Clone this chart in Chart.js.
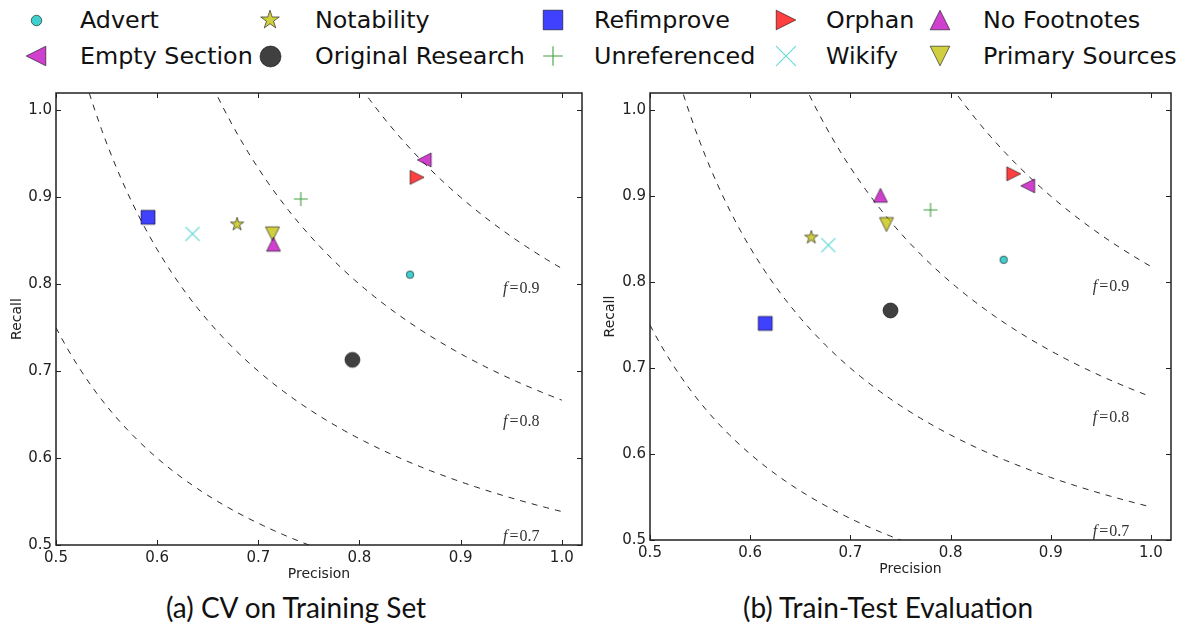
<!DOCTYPE html>
<html>
<head>
<meta charset="utf-8">
<script src="https://cdn.jsdelivr.net/npm/chart.js@4.4.1/dist/chart.umd.min.js"></script>
<style>
  body { margin: 0; background: #fff; width: 1182px; height: 628px; overflow: hidden; position: relative; }
  canvas.plot { position: absolute; }
  .leg { position: absolute; font-family: "DejaVu Sans"; font-size: 23.8px; line-height: 28px; color: #111; white-space: nowrap; }
  .legm { position: absolute; }
  .cap { position: absolute; font-family: Lato; font-size: 28px; line-height: 32px; color: #111; white-space: nowrap; transform: translateX(-50%); }
</style>
</head>
<body>
<canvas id="cvChart" class="plot" width="592" height="510" style="left:0px;top:80px;width:592px;height:510px"></canvas>
<canvas id="ttChart" class="plot" width="590" height="510" style="left:592px;top:80px;width:590px;height:510px"></canvas>
<div class="cap" style="left:296px;top:591px">(a) CV on Training Set</div>
<div class="cap" style="left:888px;top:591px">(b) Train-Test Evaluation</div>
<script>
// maintenance template categories
const categories = [
  "Advert", "Empty Section", "Notability", "Original Research", "Refimprove",
  "Unreferenced", "Orphan", "Wikify", "No Footnotes", "Primary Sources",
];

// (a) CV on training set
const cvPrecision = [0.850, 0.864, 0.679, 0.793, 0.591, 0.742, 0.857, 0.635, 0.715, 0.714];
const cvRecall = [0.811, 0.943, 0.869, 0.713, 0.877, 0.898, 0.923, 0.858, 0.846, 0.858];

// (b) train-test evaluation
const ttPrecision = [0.853, 0.877, 0.661, 0.740, 0.615, 0.780, 0.863, 0.678, 0.730, 0.736];
const ttRecall = [0.826, 0.912, 0.852, 0.767, 0.752, 0.884, 0.926, 0.843, 0.901, 0.867];

const xTicks = [0.5, 0.6, 0.7, 0.8, 0.9, 1.0];
const yTicks = [0.5, 0.6, 0.7, 0.8, 0.9, 1.0];

// iso F-measure guide curves, labels only on some
const fLevels = [0.6, 0.7, 0.8, 0.9];
const fLabelRecall = [null, 0.51, 0.642, 0.795];
const fLabelPrecision = 0.942;

// marker looks (alpha .75 like the original plot)
const markerShapes = ["circle", "triLeft", "star", "circle", "square", "plus", "triRight", "x", "triUp", "triDown"];
const markerSizes = [7.5, 14, 14, 15, 14, 14, 14, 14, 14, 14];
const markerColors = [
  "rgba(0,191,191,0.75)", "rgba(191,0,191,0.75)", "rgba(191,191,0,0.75)", "rgba(0,0,0,0.75)",
  "rgba(0,0,255,0.75)", "rgba(0,128,0,0.75)", "rgba(255,0,0,0.75)", "rgba(0,191,191,0.6)",
  "rgba(191,0,191,0.75)", "rgba(191,191,0,0.75)",
];
const edgeColor = "rgba(0,0,0,0.7)";

function makeMarker(shape, size, fill) {
  const dim = Math.ceil(size) + 4;
  const c = document.createElement("canvas");
  c.width = dim;
  c.height = dim;
  const g = c.getContext("2d");
  const m = dim / 2, h = size / 2;
  g.beginPath();
  if (shape === "circle") {
    g.arc(m, m, h, 0, Math.PI * 2);
  } else if (shape === "square") {
    g.rect(m - h, m - h, size, size);
  } else if (shape === "triUp") {
    g.moveTo(m, m - h); g.lineTo(m + h, m + h); g.lineTo(m - h, m + h); g.closePath();
  } else if (shape === "triDown") {
    g.moveTo(m, m + h); g.lineTo(m + h, m - h); g.lineTo(m - h, m - h); g.closePath();
  } else if (shape === "triLeft") {
    g.moveTo(m - h, m); g.lineTo(m + h, m - h); g.lineTo(m + h, m + h); g.closePath();
  } else if (shape === "triRight") {
    g.moveTo(m + h, m); g.lineTo(m - h, m - h); g.lineTo(m - h, m + h); g.closePath();
  } else if (shape === "star") {
    for (let i = 0; i < 10; i++) {
      const r = i % 2 === 0 ? h : h * 0.382;
      const a = -Math.PI / 2 + i * Math.PI / 5;
      const px = m + r * Math.cos(a), py = m + r * Math.sin(a);
      if (i === 0) g.moveTo(px, py); else g.lineTo(px, py);
    }
    g.closePath();
  } else if (shape === "plus") {
    g.moveTo(m - h, m); g.lineTo(m + h, m);
    g.moveTo(m, m - h); g.lineTo(m, m + h);
  } else if (shape === "x") {
    g.moveTo(m - h, m - h); g.lineTo(m + h, m + h);
    g.moveTo(m - h, m + h); g.lineTo(m + h, m - h);
  }
  if (shape === "plus" || shape === "x") {
    g.strokeStyle = fill;
    g.lineWidth = 1.1;
    g.stroke();
  } else {
    g.fillStyle = fill;
    g.fill();
    g.strokeStyle = edgeColor;
    g.lineWidth = 0.8;
    g.stroke();
  }
  return c;
}

const precisionGrid = [];
for (let i = 0; i <= 100; i++) precisionGrid.push(0.5 + i * 0.005);

function framePlugin() {
  return {
    id: "frame",
    afterDatasetsDraw(chart) {
      const { ctx, chartArea: a, scales: { x, y } } = chart;
      ctx.save();
      ctx.strokeStyle = "#222";
      ctx.lineWidth = 1;
      ctx.beginPath();
      xTicks.forEach((v) => {
        const px = Math.round(x.getPixelForValue(v)) + 0.5;
        ctx.moveTo(px, a.bottom); ctx.lineTo(px, a.bottom - 5);
        ctx.moveTo(px, a.top); ctx.lineTo(px, a.top + 5);
      });
      yTicks.forEach((v) => {
        const py = Math.round(y.getPixelForValue(v)) + 0.5;
        ctx.moveTo(a.left, py); ctx.lineTo(a.left + 5, py);
        ctx.moveTo(a.right, py); ctx.lineTo(a.right - 5, py);
      });
      ctx.stroke();
      ctx.lineWidth = 1.5;
      ctx.strokeRect(a.left, a.top, a.right - a.left, a.bottom - a.top);

      // f = ... labels
      ctx.fillStyle = "#333";
      ctx.textBaseline = "middle";
      fLevels.forEach((f, i) => {
        if (fLabelRecall[i] === null) return;
        let px = x.getPixelForValue(fLabelPrecision);
        const py = y.getPixelForValue(fLabelRecall[i]);
        ctx.font = 'italic 16px "Liberation Serif"';
        ctx.fillText("f", px, py);
        px += ctx.measureText("f").width + 2;
        ctx.font = '16px "Liberation Serif"';
        ctx.fillText("=", px, py);
        px += ctx.measureText("=").width + 1;
        ctx.fillText(f.toFixed(1), px, py);
      });
      ctx.restore();
    },
  };
}

function buildChart(id, precision, recall, box) {
  const datasets = categories.map((name, i) => ({
    label: name,
    data: [{ x: precision[i], y: recall[i] }],
    pointStyle: makeMarker(markerShapes[i], markerSizes[i], markerColors[i]),
    pointRadius: 6,
    order: 0,
  }));
  fLevels.forEach((f) => {
    datasets.push({
      label: "f=" + f,
      data: precisionGrid.map((p) => ({ x: p, y: (f * p) / (2 * p - f) })),
      showLine: true,
      pointRadius: 0,
      borderColor: "rgba(0,0,0,0.85)",
      borderWidth: 1,
      borderDash: [6, 6],
      order: 1,
    });
  });

  const tickFont = { family: "DejaVu Sans", size: 15 };
  const titleFont = { family: "DejaVu Sans", size: 14 };

  return new Chart(document.getElementById(id).getContext("2d"), {
    type: "scatter",
    data: { datasets },
    options: {
      responsive: false,
      animation: false,
      events: [],
      layout: { padding: { top: box.top, right: box.right, left: 0, bottom: 0 } },
      plugins: { legend: { display: false }, tooltip: { enabled: false } },
      scales: {
        x: {
          type: "linear",
          min: 0.5,
          max: 1.02,
          afterBuildTicks: (s) => { s.ticks = xTicks.map((v) => ({ value: v })); },
          afterFit: (s) => { s.height = box.xAxisH; },
          grid: { display: false, drawTicks: false },
          border: { display: false },
          ticks: { font: tickFont, color: "#222", padding: 4, maxRotation: 0, autoSkip: false, callback: (v) => v.toFixed(1) },
          title: { display: true, text: "Precision", font: titleFont, color: "#222", padding: { top: 0, bottom: box.xTitlePad } },
        },
        y: {
          type: "linear",
          min: 0.5,
          max: 1.02,
          afterBuildTicks: (s) => { s.ticks = yTicks.map((v) => ({ value: v })); },
          afterFit: (s) => { s.width = box.yAxisW; },
          grid: { display: false, drawTicks: false },
          border: { display: false },
          ticks: { font: tickFont, color: "#222", padding: 4, autoSkip: false, callback: (v) => v.toFixed(1) },
          title: { display: true, text: "Recall", font: titleFont, color: "#222", padding: { top: box.yTitlePad, bottom: 0 } },
        },
      },
    },
    plugins: [framePlugin()],
  });
}

buildChart("cvChart", cvPrecision, cvRecall, { top: 12, right: 10, xAxisH: 45, yAxisW: 56, xTitlePad: 7.6, yTitlePad: 8.6 });
buildChart("ttChart", ttPrecision, ttRecall, { top: 11, right: 11, xAxisH: 50, yAxisW: 58, xTitlePad: 12.6, yTitlePad: 9.6 });

// legend across the top, filled column by column like the original
const legendMarkerX = [36, 270, 553, 786, 940];
const legendTextX = [80, 315, 594, 826, 983];
const legendRowY = [20, 56];
categories.forEach((name, i) => {
  const col = Math.floor(i / 2), row = i % 2;
  const mk = makeMarker(markerShapes[i], markerSizes[i] * 1.4, markerColors[i]);
  mk.className = "legm";
  mk.style.left = legendMarkerX[col] - mk.width / 2 + "px";
  mk.style.top = legendRowY[row] - mk.height / 2 + "px";
  document.body.appendChild(mk);
  const t = document.createElement("div");
  t.className = "leg";
  t.textContent = name;
  t.style.left = legendTextX[col] + "px";
  t.style.top = legendRowY[row] - 14 + "px";
  document.body.appendChild(t);
});
</script>
</body>
</html>
